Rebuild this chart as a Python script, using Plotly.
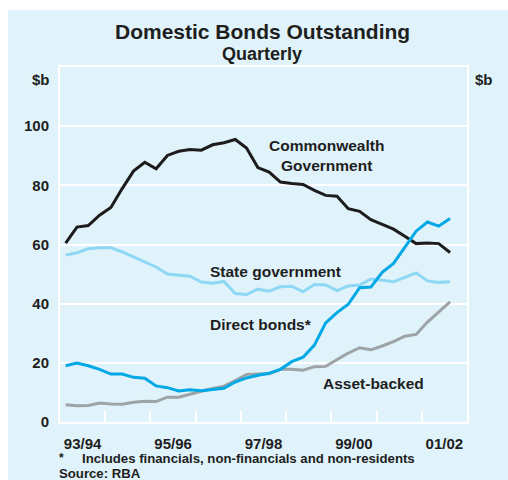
import plotly.graph_objects as go

# Quarterly observations, Sep 1993 to Mar 2002 ($ billion)
quarters = list(range(35))
commonwealth = [60.5, 65.9, 66.4, 69.9, 72.5, 78.9, 84.8, 87.8, 85.6, 90.1,
                91.5, 92.1, 91.9, 93.7, 94.4, 95.5, 92.6, 86.0, 84.5, 81.1,
                80.6, 80.3, 78.3, 76.6, 76.3, 72.1, 71.2, 68.4, 66.8, 65.2,
                62.8, 60.3, 60.5, 60.3, 57.3]
state_gov = [56.4, 57.2, 58.6, 58.9, 58.9, 57.5, 55.8, 54.1, 52.4, 50.0,
             49.6, 49.3, 47.3, 46.9, 47.5, 43.4, 43.1, 44.9, 44.2, 45.7,
             45.9, 44.0, 46.5, 46.3, 44.4, 46.0, 46.3, 48.3, 47.9, 47.4,
             48.9, 50.4, 47.7, 47.2, 47.4]
direct_bonds = [19.0, 19.9, 19.0, 17.8, 16.2, 16.2, 15.1, 14.8, 12.2, 11.6,
                10.5, 10.9, 10.6, 10.9, 11.4, 13.5, 14.9, 15.8, 16.5, 17.8,
                20.4, 21.9, 26.0, 33.5, 37.0, 39.8, 45.4, 45.6, 50.6, 53.6,
                59.2, 64.5, 67.6, 66.2, 68.8]
asset_backed = [5.8, 5.5, 5.6, 6.4, 6.1, 6.0, 6.7, 7.0, 6.9, 8.4,
                8.4, 9.5, 10.4, 11.3, 12.1, 14.0, 16.1, 16.2, 16.3, 17.8,
                17.8, 17.5, 18.7, 18.8, 21.2, 23.3, 25.1, 24.4, 25.7, 27.2,
                29.0, 29.6, 33.8, 37.3, 40.6]

year_labels = ["93/94", "95/96", "97/98", "99/00", "01/02"]
y_ticks = [0, 20, 40, 60, 80, 100]

# x position: mid-point of each quarter, with fiscal years 4 units wide
xq = [q + 0.5 for q in quarters]

BG = "#e0f3fa"
TXT = "#1e1e1e"
FONT = "Liberation Sans, Arial, sans-serif"

W, H = 508, 480
L, R, T, B = 60, 41, 67, 58
PW, PH = W - L - R, H - T - B


def px_x(px):
    return (px - L) / PW


def px_y(py):
    return (H - B - py) / PH


fig = go.Figure()
series = [
    ("Commonwealth Government", commonwealth, "#1c1c1c", 3),
    ("State government", state_gov, "#8ed8f6", 3),
    ("Asset-backed", asset_backed, "#9ea3a6", 3),
    ("Direct bonds", direct_bonds, "#00a8e6", 3),
]
for name, vals, col, w in series:
    fig.add_trace(go.Scatter(x=xq, y=vals, mode="lines", name=name,
                             line=dict(color=col, width=w),
                             hoverinfo="skip"))

bold = dict(family=FONT, color=TXT, weight="bold")

fig.update_layout(
    width=W, height=H,
    margin=dict(l=L, r=R, t=T, b=B),
    paper_bgcolor="white",
    plot_bgcolor=BG,
    showlegend=False,
    xaxis=dict(
        range=[0, 36],
        tickvals=[2 + 8 * i for i in range(len(year_labels))],
        ticktext=year_labels,
        ticks="",
        tickfont=dict(size=15, **bold),
        ticklabelstandoff=7,
        showgrid=False, zeroline=False,
        showline=True, linecolor="white", linewidth=2, mirror=True,
        minor=dict(tickvals=[4 * k for k in range(1, 9)], ticks="inside",
                   ticklen=11, tickwidth=2, tickcolor="white",
                   showgrid=False),
        fixedrange=True,
    ),
    yaxis=dict(
        range=[0, 120],
        tickvals=y_ticks,
        ticks="",
        tickfont=dict(size=15, **bold),
        ticklabelstandoff=6,
        showgrid=True, gridcolor="white", gridwidth=1.5,
        zeroline=False,
        showline=True, linecolor="white", linewidth=2, mirror=True,
        fixedrange=True,
    ),
    yaxis2=dict(
        range=[0, 120],
        tickvals=y_ticks,
        ticks="",
        tickfont=dict(size=15, **bold),
        ticklabelstandoff=6,
        overlaying="y", side="right",
        showgrid=False, zeroline=False, showline=False,
        fixedrange=True,
    ),
)

# light-blue panel behind the whole chart
fig.add_shape(type="rect", xref="paper", yref="paper",
              x0=px_x(8), x1=px_x(W + 2), y0=px_y(H + 2), y1=px_y(10),
              fillcolor=BG, line=dict(width=0), layer="below")

ann = []


def paper_text(text, x, y, size, xanchor="center"):
    ann.append(dict(text=text, xref="paper", yref="paper",
                    x=px_x(x), y=px_y(y), xanchor=xanchor, yanchor="middle",
                    showarrow=False, font=dict(size=size, **bold)))


def data_text(text, x, y, size=15.5):
    ann.append(dict(text=text, xref="x", yref="y", x=x, y=y,
                    xanchor="center", yanchor="middle", showarrow=False,
                    font=dict(size=size, **bold)))


paper_text("Domestic Bonds Outstanding", 262, 32, 21)
paper_text("Quarterly", 262, 54, 18)
paper_text("$b", 52, 80, 15, "right")
paper_text("$b", 473, 80, 15, "left")
paper_text("*", 57, 458, 12, "left")
paper_text("Includes financials, non-financials and non-residents", 80, 458.5, 13.2, "left")
paper_text("Source: RBA", 57, 473, 13.2, "left")

data_text("Commonwealth<br>Government", 23.6, 90.1)
data_text("State government", 19.1, 51.0)
data_text("Direct bonds*", 17.8, 32.8)
data_text("Asset-backed", 27.75, 13.1)

fig.update_layout(annotations=ann)

fig.write_html("out.html")
